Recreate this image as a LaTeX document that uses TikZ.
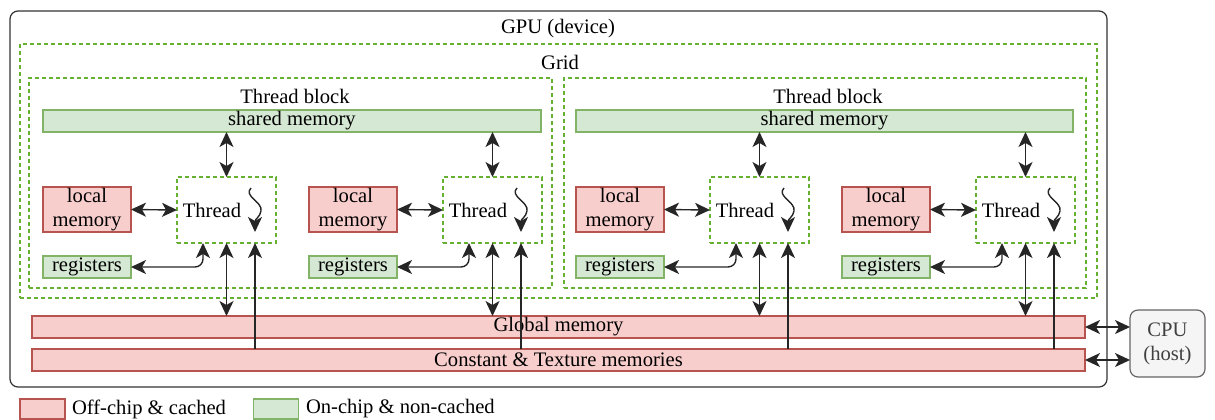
\documentclass[tikz,border=0pt]{standalone}
\usepackage{fontspec}
\setmainfont{Liberation Serif}
\usetikzlibrary{arrows.meta,calc}
\definecolor{redfill}{HTML}{F8CECC}
\definecolor{redline}{HTML}{B85450}
\definecolor{greenfill}{HTML}{D5E8D4}
\definecolor{greenline}{HTML}{82B366}
\definecolor{dashgreen}{HTML}{66B032}
\definecolor{cpufill}{HTML}{F5F5F5}
\definecolor{cpuline}{HTML}{666666}
\tikzset{
  mytip/.tip={Stealth[length=7.5pt,width=7pt,inset=2pt]},
}
\begin{document}
\begin{tikzpicture}[x=0.5pt,y=-0.5pt, font=\rmfamily\fontsize{10.3}{12}\selectfont,
  sz/.style 2 args={minimum width=#1*0.5pt, minimum height=#2*0.5pt, inner sep=0pt, outer sep=0pt},
  redbox/.style={draw=redline, fill=redfill, line width=0.6pt},
  greenbox/.style={draw=greenline, fill=greenfill, line width=0.6pt},
  dashbox/.style={draw=dashgreen, dash pattern=on 2pt off 1.5pt, line width=0.65pt},
  conn/.style={draw=black!85, line width=0.7pt, mytip-mytip},
  oneway/.style={draw=black!85, line width=0.7pt, -mytip},
  lbl/.style={inner sep=0pt, outer sep=0pt},
  ]
\useasboundingbox (0,0) rectangle (1215,419);

% GPU device
\node[draw=black!80, line width=0.6pt, rounded corners=4pt, sz={1097}{376}] (gpu) at (558.5,199) {};
\node[lbl] (gpul) at (558,29) {GPU (device)};

% Grid
\node[dashbox, sz={1077}{254}] (grid) at (558.5,171) {};
\node[lbl] (gridl) at (560,62) {Grid};

% Thread blocks
\node[dashbox, sz={523}{210}] (blk1) at (290.5,183) {};
\node[dashbox, sz={522}{210}] (blk2) at (825,183) {};
\node[lbl] (blk1l) at (295,96) {Thread block};
\node[lbl] (blk2l) at (828,96) {Thread block};

% Shared memories
\node[greenbox, sz={498}{22}] (sm1) at (292,121) {shared memory};
\node[greenbox, sz={497}{22}] (sm2) at (824.5,121) {shared memory};

% Global and constant memories
\node[redbox, sz={1053}{22}] (gm) at (558.5,327) {Global memory};
\node[redbox, sz={1053}{22}] (cm) at (558.5,360) {Constant \& Texture memories};

% CPU
\node[draw=cpuline, fill=cpufill, line width=0.6pt, rounded corners=4pt, sz={75}{67}, align=center, text=black!75] (cpu) at (1167.5,343.5) {CPU\\(host)};
\draw[conn] (gm.east) -- (gm.east -| cpu.west);
\draw[conn] (cm.east) -- (cm.east -| cpu.west);

% Threads
\foreach \o/\i/\s in {0/1/sm1, 266/2/sm1, 533/3/sm2, 799/4/sm2}{
  \node[redbox, sz={88}{45}, align=center] (loc\i) at ({87+\o},209.5) {local\\memory};
  \node[greenbox, sz={88}{22}] (reg\i) at ({87+\o},267) {registers};
  \node[dashbox, sz={99}{66}] (thr\i) at ({226.5+\o},210) {};
  \node[lbl] (thrl\i) at ({212+\o},210) {Thread};
  \draw[oneway] ({251+\o},188) .. controls ({243+\o},196) and ({263+\o},202) .. ({261+\o},211)
        .. controls ({260+\o},217) and ({255+\o},219) .. ({255+\o},232);
  \coordinate (rg\i) at ([xshift=-11.75pt]thr\i.south);
  \coordinate (ct\i) at ([xshift=14.25pt]thr\i.south);
  \draw[conn] (thr\i.north) -- (thr\i.north |- \s.south);
  \draw[conn] (loc\i.east) -- (thr\i.west);
  \draw[conn, rounded corners=4pt] (reg\i.east) -| (rg\i);
  \draw[conn] (thr\i.south) -- (thr\i.south |- gm.north);
  \draw[oneway] (ct\i |- cm.north) -- (ct\i);
}

% Legend
\node[redbox, sz={45}{20}] (leg1) at (42.5,409) {};
\node[lbl, anchor=west] (leg1l) at (72,409) {Off-chip \& cached};
\node[greenbox, sz={45}{20}] (leg2) at (276,409) {};
\node[lbl, anchor=west] (leg2l) at (306,409) {On-chip \& non-cached};
\end{tikzpicture}
\end{document}
